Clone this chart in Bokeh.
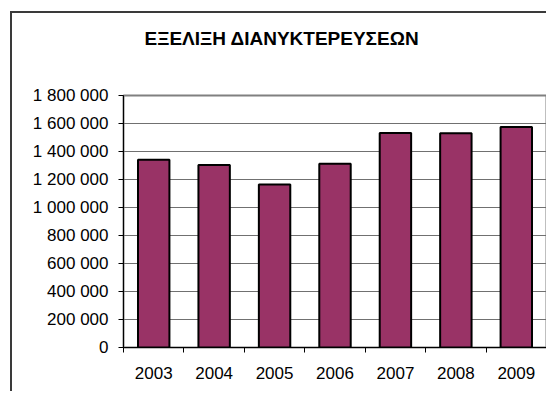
from bokeh.plotting import figure
from bokeh.models import FixedTicker, CustomJSTickFormatter, Range1d, Title
from bokeh.embed import file_html
from bokeh.resources import INLINE

title_text = "ΕΞΕΛΙΞΗ ΔΙΑΝΥΚΤΕΡΕΥΣΕΩΝ"
years = [2003, 2004, 2005, 2006, 2007, 2008, 2009]
overnights = [1341000, 1303000, 1164000, 1312000, 1533000, 1530000, 1575000]
y_ticks = [0, 200000, 400000, 600000, 800000, 1000000, 1200000, 1400000, 1600000, 1800000]

FONT = "Liberation Sans"

p = figure(width=536, height=380, output_backend="svg", toolbar_location=None,
           x_range=Range1d(years[0] - 0.5, years[-1] + 0.5),
           y_range=Range1d(y_ticks[0], y_ticks[-1]),
           min_border_left=111, min_border_right=2, min_border_top=82, min_border_bottom=46)

p.styles = {"border-left": "2px solid #3a3a3a", "border-top": "2px solid #3a3a3a",
            "margin-left": "10px", "margin-top": "11px"}

p.title.text = title_text
p.title.text_font = FONT
p.title.text_font_size = "19px"
p.title.text_font_style = "bold"
p.title.text_color = "black"
p.title.align = "left"
p.title.offset = 21
p.title.standoff = 0

# spacer between the frame and the chart title
p.add_layout(Title(text=" ", text_font_size="1px", standoff=44), "above")

p.vbar(x=years, top=overnights, width=0.52, fill_color="#993366",
       line_color="black", line_width=2)

p.outline_line_color = "#808080"
p.outline_line_width = 2
p.background_fill_color = "white"
p.border_fill_color = "white"

p.xgrid.visible = False
p.ygrid.grid_line_color = "#707070"
p.ygrid.grid_line_width = 1
p.ygrid.ticker = FixedTicker(ticks=y_ticks)

p.yaxis.ticker = FixedTicker(ticks=y_ticks)
p.yaxis.formatter = CustomJSTickFormatter(code="""
    return Math.round(tick).toString().replace(/\\B(?=(\\d{3})+(?!\\d))/g, ' ');
""")
p.yaxis.major_tick_out = 5
p.yaxis.major_tick_in = 0
p.yaxis.minor_tick_out = 0
p.yaxis.minor_tick_in = 0
p.yaxis.major_label_standoff = 10
p.yaxis.axis_line_color = "black"
p.yaxis.major_tick_line_color = "black"

boundaries = [y - 0.5 for y in years] + [years[-1] + 0.5]
p.xaxis.ticker = FixedTicker(ticks=years, minor_ticks=boundaries)
p.xaxis.major_tick_out = 0
p.xaxis.major_tick_in = 0
p.xaxis.minor_tick_out = 5
p.xaxis.minor_tick_in = 0
p.xaxis.minor_tick_line_color = "black"
p.xaxis.major_label_standoff = 14
p.xaxis.axis_line_color = "black"

for ax in (p.xaxis, p.yaxis):
    ax.major_label_text_font = FONT
    ax.major_label_text_font_size = "17px"
    ax.major_label_text_color = "black"

open("out.html", "w").write(file_html(p, INLINE))
